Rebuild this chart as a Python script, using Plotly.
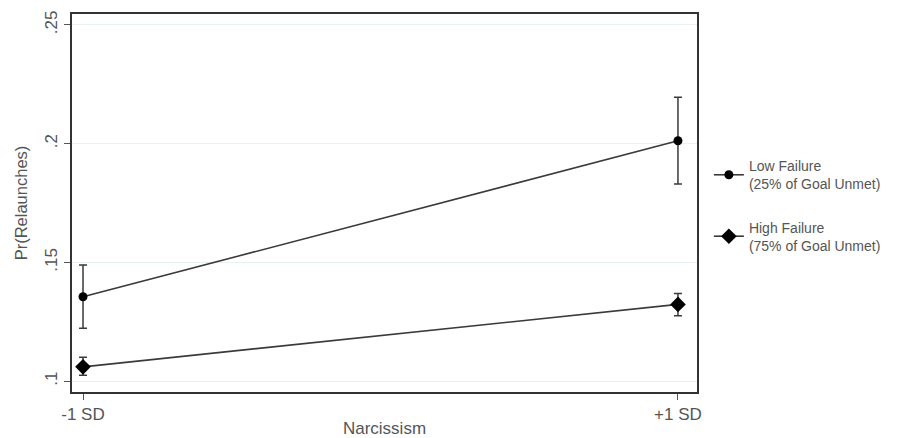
import plotly.graph_objects as go

x_labels = ["-1 SD", "+1 SD"]
x_pos = [0, 1]
low_y = [0.1355, 0.2012]
low_hi = [0.1489, 0.2195]
low_lo = [0.1222, 0.1830]
high_y = [0.1060, 0.1323]
high_hi = [0.1100, 0.1369]
high_lo = [0.1025, 0.1275]
y_ticks = [0.10, 0.15, 0.20, 0.25]
y_ticklabels = [".1", ".15", ".2", ".25"]

LC = "#3a3a3a"

def err(y, hi, lo):
    return dict(type="data", symmetric=False,
                array=[h - v for h, v in zip(hi, y)],
                arrayminus=[v - l for l, v in zip(lo, y)],
                color=LC, thickness=1.5, width=4)

fig = go.Figure()
fig.add_trace(go.Scatter(
    x=x_pos, y=low_y, mode="lines+markers", legendgroup="low",
    name="Low Failure<br>(25% of Goal Unmet)",
    line=dict(color=LC, width=1.6),
    marker=dict(symbol="circle", size=9, color="black"),
    error_y=err(low_y, low_hi, low_lo)))
fig.add_trace(go.Scatter(
    x=x_pos, y=high_y, mode="lines+markers", legendgroup="high",
    name="High Failure<br>(75% of Goal Unmet)",
    line=dict(color=LC, width=1.6),
    marker=dict(symbol="diamond", size=12, color="black"),
    error_y=err(high_y, high_hi, high_lo)))

FAM = "Liberation Sans, Arial, sans-serif"
font = dict(family=FAM, color="#555555", size=15)

fig.update_layout(
    width=901, height=438,
    margin=dict(l=72, r=204, t=14, b=46),
    paper_bgcolor="white", plot_bgcolor="white",
    font=font,
    showlegend=True,
    legend=dict(x=1.019, y=0.64, xanchor="left", yanchor="top",
                font=dict(family=FAM, size=14, color="#555555"),
                tracegroupgap=22, bgcolor="rgba(0,0,0,0)"),
    xaxis=dict(range=[-0.0185, 1.032], tickvals=x_pos, ticktext=x_labels,
               showgrid=False, zeroline=False, automargin=False,
               showline=True, linecolor="#333333", linewidth=2, mirror=True,
               ticks="outside", ticklen=6, tickcolor="#555555",
               title=dict(text="Narcissism", standoff=0, font=dict(size=17)),
               tickfont=dict(size=17)),
    yaxis=dict(range=[0.0954, 0.2546], tickvals=y_ticks, ticktext=y_ticklabels,
               tickangle=-90, automargin=False,
               showgrid=True, gridcolor="#e8f0f2", gridwidth=1, zeroline=False,
               showline=True, linecolor="#333333", linewidth=2, mirror=True,
               ticks="outside", ticklen=6, tickcolor="#555555",
               title=dict(text="Pr(Relaunches)", standoff=10, font=dict(size=16.5)),
               tickfont=dict(size=17)),
)

fig.write_html("out.html", config={"displayModeBar": False},
               post_script="document.body.style.margin='0';document.body.style.padding='0';")
